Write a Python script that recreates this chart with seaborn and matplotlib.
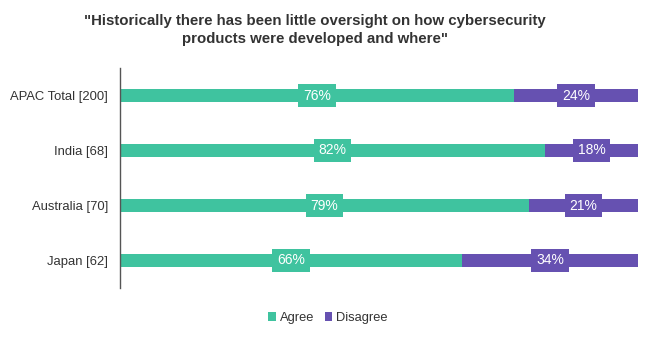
import matplotlib
matplotlib.use("Agg")
import matplotlib.pyplot as plt
import seaborn as sns
import pandas as pd
from matplotlib.patches import Patch

categories = ["APAC Total [200]", "India [68]", "Australia [70]", "Japan [62]"]
agree = [76, 82, 79, 66]
disagree = [24, 18, 21, 34]
series_names = ["Agree", "Disagree"]
title = '"Historically there has been little oversight on how cybersecurity\nproducts were developed and where"'

teal = "#3FC39F"
purple = "#6651B1"
text_col = "#333333"

sns.set_theme(style="white")
plt.rcParams['font.family'] = ['Liberation Sans', 'DejaVu Sans']

df = pd.DataFrame({"cat": categories, "agree": agree, "disagree": disagree})
df["total"] = df["agree"] + df["disagree"]

fig = plt.figure(figsize=(6.56, 3.39), dpi=100)
ax = fig.add_axes([120/656, 1-288/339, (638-120)/656, (288-68)/339])

sns.barplot(data=df, y="cat", x="total", color=purple, orient="h", width=0.23,
            saturation=1, linewidth=0, ax=ax)
sns.barplot(data=df, y="cat", x="agree", color=teal, orient="h", width=0.23,
            saturation=1, linewidth=0, ax=ax)

for i, (a, d) in enumerate(zip(agree, disagree)):
    ax.text(a/2, i, f"{a}%", ha="center", va="center", color="white", fontsize=10,
            bbox=dict(boxstyle="square,pad=0.35", fc=teal, ec="none"))
    ax.text(a + d/2, i, f"{d}%", ha="center", va="center", color="white", fontsize=10,
            bbox=dict(boxstyle="square,pad=0.35", fc=purple, ec="none"))

ax.set_xlim(0, 100)
ax.set_ylim(3.5, -0.5)
ax.set_xlabel("")
ax.set_ylabel("")
ax.set_xticks([])
ax.tick_params(axis="y", length=0, labelsize=9.4, labelcolor=text_col, pad=8.5)
for s in ["top", "right", "bottom"]:
    ax.spines[s].set_visible(False)
ax.spines["left"].set_color("#555555")
ax.spines["left"].set_linewidth(1.0)

fig.text(0.48, 1-30/339, title, ha="center", va="center", fontsize=10.8,
         fontweight="bold", color=text_col, linespacing=1.45)

handles = [Patch(facecolor=teal, edgecolor="none"), Patch(facecolor=purple, edgecolor="none")]
fig.legend(handles, series_names, loc="center", bbox_to_anchor=(0.5, 1-318/339),
           ncol=2, frameon=False, fontsize=9.3, handlelength=0.6, handleheight=0.6,
           handletextpad=0.3, columnspacing=0.8, labelcolor=text_col)

fig.savefig("out.png", dpi=100)
